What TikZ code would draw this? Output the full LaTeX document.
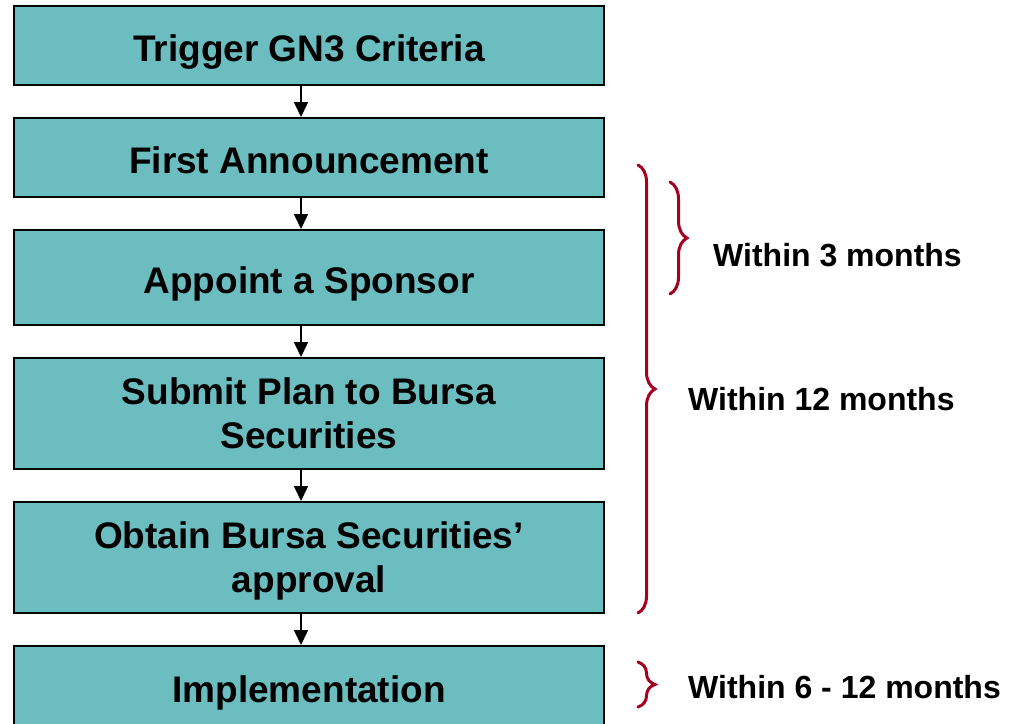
\documentclass[tikz,border=0pt]{standalone}
\usepackage{fontspec}
\setmainfont{Liberation Sans}
\usetikzlibrary{arrows.meta, decorations.pathreplacing}
\definecolor{stepteal}{HTML}{6BBDC0}
\definecolor{bracered}{HTML}{A50021}

\begin{document}
\begin{tikzpicture}[x=1pt, y=-1pt,
    stepbox/.style={draw=black, line width=2pt, fill=stepteal, minimum width=590pt, inner sep=0pt, align=center, text depth=0pt, font=\fontsize{37}{44}\selectfont\bfseries},
    oneline/.style={text height=31.5pt},
    flow/.style={-{Triangle[length=15pt, width=14pt]}, line width=1.5pt},
    period/.style={decorate, decoration={brace, amplitude=17pt}, draw=bracered, line width=3pt, line cap=round},
    note/.style={anchor=west, inner sep=0pt, font=\fontsize{32}{38}\selectfont\bfseries}]
    \useasboundingbox (0,0) rectangle (1009,723);

    % Steps
    \node[stepbox, oneline, minimum height=79pt] (trigger) at (309, 45.5) {Trigger GN3 Criteria};
    \node[stepbox, oneline, minimum height=79pt] (announce) at (309, 157.5) {First Announcement};
    \node[stepbox, oneline, minimum height=95pt] (sponsor) at (309, 277.5) {Appoint a Sponsor};
    \node[stepbox, minimum height=111pt] (submit) at (309, 413.5) {Submit Plan to Bursa\\Securities};
    \node[stepbox, minimum height=111pt] (approval) at (309, 557.5) {Obtain Bursa Securities'\\approval};
    \node[stepbox, oneline, minimum height=82pt] (implement) at (309, 687) {Implementation};

    % Arrows
    \coordinate (axis) at (301, 0);
    \draw[flow] (trigger.south -| axis) -- (announce.north -| axis);
    \draw[flow] (announce.south -| axis) -- (sponsor.north -| axis);
    \draw[flow] (sponsor.south -| axis) -- (submit.north -| axis);
    \draw[flow] (submit.south -| axis) -- (approval.north -| axis);
    \draw[flow] (approval.south -| axis) -- (implement.north -| axis);

    % Time frames
    \draw[period] (638, 165) -- (638, 613);
    \draw[period] (670, 182) -- (670, 294);
    \draw[period] (638, 662) -- (638, 707);

    \node[note] (three) at (713, 255) {Within 3 months};
    \node[note] (twelve) at (688, 399) {Within 12 months};
    \node[note] (six) at (688, 687) {Within 6 - 12 months};
\end{tikzpicture}
\end{document}
